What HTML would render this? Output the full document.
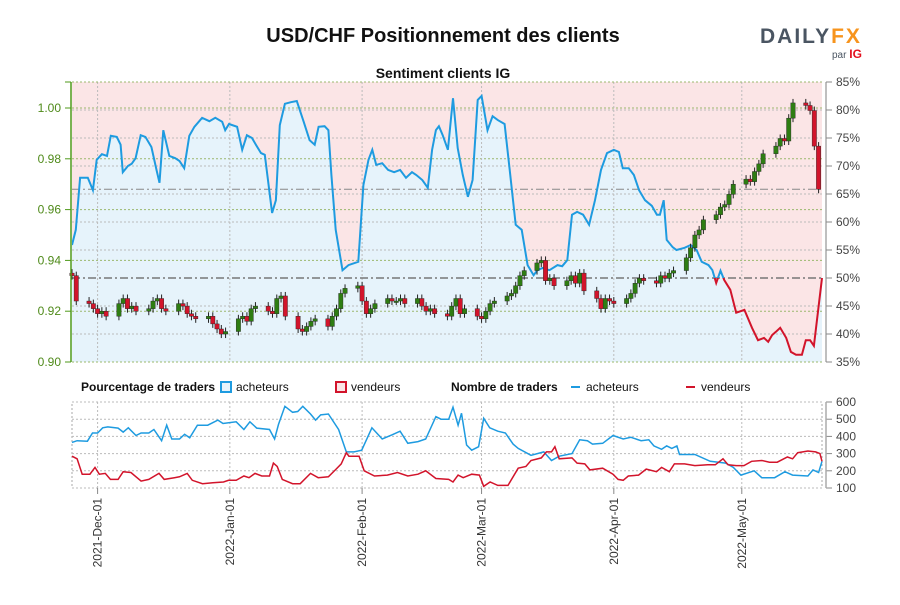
<!DOCTYPE html>
<html><head><meta charset="utf-8"><style>
body{margin:0;background:#fff;font-family:"Liberation Sans",sans-serif}
svg text{font-family:"Liberation Sans",sans-serif}
</style></head><body>
<svg id="c" width="900" height="600" viewBox="0 0 900 600" xmlns="http://www.w3.org/2000/svg">
<defs>
<clipPath id="above"><rect x="72" y="82" width="751" height="196"/></clipPath>
<clipPath id="below"><rect x="72" y="278" width="751" height="84"/></clipPath>
</defs>
<text x="443" y="42" text-anchor="middle" font-size="20" font-weight="bold" fill="#111">USD/CHF Positionnement des clients</text>
<text x="443" y="78" text-anchor="middle" font-size="14" font-weight="bold" fill="#111">Sentiment clients IG</text>
<g>
<text x="760" y="43" font-size="21" font-weight="bold" fill="#4a5562" letter-spacing="2">DAILY<tspan fill="#f7941d">FX</tspan></text>
<text x="832" y="58" font-size="10" fill="#4a5562">par <tspan fill="#e3101e" font-weight="bold" font-size="12">IG</tspan></text>
</g>
<g id="main"></g>
<g id="legend">
<text x="81" y="391" font-size="12" font-weight="bold" fill="#111">Pourcentage de traders</text>
<rect x="221" y="382" width="10" height="10" fill="#e6f3fb" stroke="#1e9be0" stroke-width="2"/>
<text x="236" y="391" font-size="12" fill="#111">acheteurs</text>
<rect x="336" y="382" width="10" height="10" fill="#fbe5e6" stroke="#d2142b" stroke-width="2"/>
<text x="351" y="391" font-size="12" fill="#111">vendeurs</text>
<text x="451" y="391" font-size="12" font-weight="bold" fill="#111">Nombre de traders</text>
<line x1="571" y1="387" x2="580" y2="387" stroke="#1e9be0" stroke-width="2"/>
<text x="586" y="391" font-size="12" fill="#111">acheteurs</text>
<line x1="686" y1="387" x2="695" y2="387" stroke="#d2142b" stroke-width="2"/>
<text x="701" y="391" font-size="12" fill="#111">vendeurs</text>
</g>
<g id="bottom"></g>
</svg>
<script>
const sentDays=[0,0.9,1.9,3.7,4.9,5.8,7.0,8.2,9.1,10.5,11.4,11.9,13.1,14.0,14.9,16.1,17.2,18.6,19.8,20.5,21.4,22.8,24.2,25.2,26.3,27.5,28.7,30.5,32.2,33.6,35.2,35.9,36.8,38.7,39.9,41.0,42.2,43.1,44.3,45.2,46.9,47.8,48.7,49.9,51.3,52.7,54.3,55.7,56.9,57.8,59.2,60.1,60.8,61.8,63.4,64.8,67.1,68.3,69.5,70.4,71.3,72.7,74.1,75.5,76.9,78.3,79.7,80.7,82.1,83.4,84.4,85.3,86.0,86.9,88.1,89.3,90.4,91.6,92.8,93.9,95.1,96.0,97.4,98.6,99.8,101.4,102.6,104.0,105.4,106.8,108.2,109.1,110.3,111.9,113.8,114.9,116.1,117.2,118.4,119.8,121.2,122.6,124.0,125.4,127.0,128.2,129.1,130.5,131.7,132.9,134.3,135.9,137.1,137.8,138.7,139.4,140.8,141.7,143.6,145.0,146.4,147.6,149.2,150.1,151.0,152.0,152.9,154.3,155.7,157.6,159.4,160.8,162.2,163.2,164.1,165.0,166.0,167.4,168.5,169.7,171.1,172.0,173.0,173.9,175.8];
const buyersPct=[55.9,58.6,67.9,67.9,65.7,71.1,72.1,71.8,75.4,75.2,73.8,68.9,70.0,70.4,71.4,75.5,75.2,73.4,69.3,67.0,76.4,71.8,71.4,70.9,69.6,75.4,77.0,78.6,78.0,78.6,77.9,76.4,77.5,77.0,72.9,75.5,75.0,73.8,72.3,72.0,61.6,63.9,77.3,81.1,81.4,81.6,77.9,74.6,73.8,77.0,77.1,76.4,68.4,58.6,51.4,52.3,52.9,66.6,71.1,72.9,70.2,70.5,69.3,68.9,69.3,67.9,68.9,68.4,67.5,66.1,72.9,76.4,77.1,75.5,72.9,82.1,73.2,68.4,64.5,67.5,81.8,82.5,76.4,78.9,78.2,77.5,69.3,59.5,58.6,52.3,50.5,51.4,51.8,51.4,52.3,52.1,53.2,61.3,61.8,61.3,59.5,63.9,69.3,72.3,72.9,72.5,69.6,69.6,68.4,65.7,63.9,62.9,61.3,61.3,63.9,56.8,55.5,55.0,55.4,55.9,55.0,52.9,52.3,51.4,49.1,51.3,49.6,47.9,43.8,44.3,41.1,38.9,39.3,38.6,39.8,40.4,41.1,39.3,36.8,36.3,36.3,38.9,38.9,37.9,50.0];
const closes=[0.934,0.924,0.923,0.921,0.919,0.920,0.918,0.923,0.925,0.921,0.922,0.920,0.921,0.924,0.925,0.921,0.920,0.923,0.922,0.919,0.918,0.917,0.918,0.915,0.913,0.911,0.912,0.917,0.918,0.916,0.921,0.922,0.920,0.919,0.925,0.926,0.918,0.913,0.912,0.914,0.916,0.917,0.914,0.918,0.921,0.927,0.929,0.930,0.924,0.919,0.921,0.923,0.925,0.924,0.924,0.925,0.923,0.925,0.922,0.920,0.921,0.919,0.918,0.922,0.925,0.919,0.921,0.918,0.917,0.920,0.923,0.924,0.926,0.927,0.930,0.934,0.936,0.939,0.940,0.932,0.933,0.930,0.932,0.934,0.931,0.935,0.928,0.925,0.921,0.925,0.924,0.923,0.925,0.927,0.931,0.933,0.932,0.931,0.934,0.933,0.935,0.936,0.941,0.945,0.950,0.952,0.956,0.958,0.961,0.962,0.966,0.970,0.972,0.971,0.975,0.978,0.982,0.985,0.988,0.987,0.996,1.002,1.001,0.999,0.985,0.968];
const firstOpen=0.935;
const buyDays=[0,1.2,3.6,4.8,6,7.2,8.4,10.8,12,13.2,15,16.2,18,19.2,21,22.2,23.4,25.2,26.4,27.6,29.4,31.8,34.2,35.4,38.5,40.3,41.7,43.3,46.3,47.5,48.4,49.9,51.7,52.9,54.1,55.9,57.1,58.3,60.1,62.5,64.3,66.1,67.9,70.3,72.7,75.1,76.9,78.7,81.1,82.9,85.3,86.5,88.3,89.3,90.5,91.3,92.5,93.7,95.3,96.5,97.9,99.8,101.6,103.4,104.6,107.6,110.6,112.4,114.2,117.2,119,120.8,122,124.4,126.8,129.2,131,133.4,135.2,136.4,138.2,139.4,140.6,141.8,142.4,146,149.6,153.2,155,156.8,159.9,161.7,164.7,167.1,168.9,172.5,173.7,175,175.8];
const buyCounts=[365,375,372,420,420,450,455,448,425,450,405,420,420,440,375,465,385,385,412,392,465,465,495,475,485,440,485,448,440,385,470,575,540,545,575,530,495,525,530,440,310,310,320,450,385,410,430,360,370,385,515,500,500,570,465,535,350,320,340,505,450,430,420,355,330,290,310,260,285,300,380,375,355,360,405,385,395,375,380,345,325,345,330,345,295,295,255,245,220,175,200,160,160,195,175,170,205,190,255];
const sellDays=[0,1.2,2.4,4.2,5.4,6.4,7.8,9.0,10.8,12.0,13.8,16.2,18.0,20.4,21.6,24.0,25.2,27.0,28.2,30.6,33.0,35.5,36.7,38.5,40.3,41.5,42.9,44.5,46.3,47.2,48.1,49.3,51.7,53.5,55.9,57.7,60.1,61.9,63.1,64.3,64.9,67.3,68.5,70.9,73.9,76.3,78.7,81.1,82.9,85.3,88.3,89.3,90.5,91.7,93.7,95.5,96.5,98.0,99.8,102.2,104.6,106.4,107.6,110.0,111.2,112.4,113.2,114.2,117.2,118.4,120.2,121.4,124.4,126.8,128.0,129.2,130.4,132.8,134.6,137.0,138.2,140.0,141.2,143.6,146.0,149.0,150.8,152.6,153.8,155.7,157.5,159.3,161.7,163.5,165.3,167.7,168.9,170.1,172.5,174.3,175.3,175.8];
const sellCounts=[285,270,180,180,220,180,185,150,150,195,190,140,150,185,150,160,165,185,145,125,130,135,145,145,170,160,185,170,170,245,225,150,125,125,185,160,165,210,240,305,285,285,200,170,175,190,170,180,200,155,150,135,175,160,180,175,110,135,115,115,215,225,260,275,310,310,340,270,275,245,240,205,215,180,150,145,170,175,210,195,220,195,240,240,230,235,235,270,235,230,230,255,260,250,250,280,270,305,315,310,300,255];
const priceTicks=[0.90,0.92,0.94,0.96,0.98,1.00];
const pctTicks=[35,40,45,50,55,60,65,70,75,80,85];
const countTicks=[100,200,300,400,500,600];
const dateTickDays=[6,37,68,96,127,157];
const dateTickLabels=["2021-Dec-01","2022-Jan-01","2022-Feb-01","2022-Mar-01","2022-Apr-01","2022-May-01"];
const lastPrice=0.968;

const NS="http://www.w3.org/2000/svg";
const X0=72,X1=822,DMAX=175.8;
const xD=d=>X0+d*(X1-X0)/DMAX;
const yP=p=>362-(p-0.9)*2540;
const yS=s=>82+(85-s)*5.6;
const yC=v=>488-(v-100)*0.172;
function mk(tag,attrs,parent){const e=document.createElementNS(NS,tag);for(const k in attrs)e.setAttribute(k,attrs[k]);parent.appendChild(e);return e;}
const main=document.getElementById('main');
const bot=document.getElementById('bottom');

let bg=mk('rect',{x:X0,y:82,width:X1-X0,height:280,fill:'#fbe5e6'},main);


let pts=sentDays.map((d,i)=>xD(d).toFixed(1)+','+yS(buyersPct[i]).toFixed(1));
let area=mk('polygon',{points:xD(0)+',362 '+pts.join(' ')+' '+xD(DMAX)+',362',fill:'#e6f3fb'},main);


// gridlines
priceTicks.forEach(p=>{mk('line',{x1:X0,x2:X1,y1:yP(p),y2:yP(p),stroke:'#9bb86e','stroke-dasharray':'2,2','stroke-width':1},main);});
pctTicks.forEach(s=>{if(s!==50)mk('line',{x1:X0,x2:X1,y1:yS(s),y2:yS(s),stroke:'#bbb','stroke-dasharray':'2,2','stroke-width':1},main);});
dateTickDays.forEach(d=>{mk('line',{x1:xD(d),x2:xD(d),y1:82,y2:362,stroke:'#bbb','stroke-dasharray':'2,2'},main);});
mk('line',{x1:X0,x2:X1,y1:yS(50),y2:yS(50),stroke:'#777','stroke-dasharray':'8,3,2,3','stroke-width':1.5},main);
mk('line',{x1:X0,x2:X1,y1:yP(lastPrice),y2:yP(lastPrice),stroke:'#888','stroke-dasharray':'8,3,2,3','stroke-width':1},main);
// sentiment lines
let lb=mk('polyline',{points:pts.join(' '),fill:'none',stroke:'#1e9be0','stroke-width':2,'clip-path':'url(#above)'},main);


let lr=mk('polyline',{points:pts.join(' '),fill:'none',stroke:'#d2142b','stroke-width':2,'clip-path':'url(#below)'},main);


// candles
let d=0,prev=firstOpen;
for(let i=0;i<closes.length;i++){
  while([0,6].includes((4+d)%7))d++;
  const o=prev,c=closes[i],x=xD(d);
  const yt=yP(Math.max(o,c)),yb=yP(Math.min(o,c));
  const g=mk('g',{},main);
  
  
  mk('line',{x1:x,x2:x,y1:yt-4,y2:yb+4,stroke:'#222','stroke-width':1},g);
  mk('rect',{x:x-2.2,y:yt,width:4.4,height:Math.max(1.5,yb-yt),fill:c>=o?'#2e7d12':'#d2142b',stroke:'#222','stroke-width':0.4},g);
  prev=c;d++;
}
mk('line',{x1:X0,x2:X1,y1:82,y2:82,stroke:'#9bb86e','stroke-dasharray':'2,2'},main);
mk('line',{x1:X0,x2:X1,y1:362,y2:362,stroke:'#9bb86e','stroke-dasharray':'2,2'},main);
// left axis
let la=mk('line',{x1:71,x2:71,y1:82,y2:362,stroke:'#4f9a1a','stroke-width':1.5},main);


priceTicks.forEach(p=>{mk('line',{x1:65,x2:71,y1:yP(p),y2:yP(p),stroke:'#4f9a1a'},main);
 const t=mk('text',{x:61,y:yP(p)+4,'text-anchor':'end','font-size':12,fill:'#4f8a1a'},main);t.textContent=p.toFixed(2);
 });
mk('line',{x1:65,x2:71,y1:82,y2:82,stroke:'#4f9a1a'},main);
// right axis
mk('line',{x1:826,x2:826,y1:82,y2:362,stroke:'#aaa','stroke-width':1.5},main);
pctTicks.forEach(s=>{mk('line',{x1:826,x2:832,y1:yS(s),y2:yS(s),stroke:'#888'},main);
 const t=mk('text',{x:836,y:yS(s)+4,'font-size':12,fill:'#444'},main);t.textContent=s+'%';
 });
// bottom chart
mk('rect',{x:X0,y:402,width:X1-X0,height:86,fill:'none',stroke:'#aaa','stroke-dasharray':'2,2'},bot);
countTicks.forEach(v=>{mk('line',{x1:X0,x2:X1,y1:yC(v),y2:yC(v),stroke:'#bbb','stroke-dasharray':'2,2'},bot);
 mk('line',{x1:826,x2:832,y1:yC(v),y2:yC(v),stroke:'#888'},bot);
 const t=mk('text',{x:836,y:yC(v)+4,'font-size':12,fill:'#444'},bot);t.textContent=v;
 });
mk('line',{x1:826,x2:826,y1:402,y2:488,stroke:'#aaa','stroke-width':1.5},bot);
dateTickDays.forEach((dd,i)=>{const x=xD(dd);
 mk('line',{x1:x,x2:x,y1:402,y2:488,stroke:'#bbb','stroke-dasharray':'2,2'},bot);
 mk('line',{x1:x,x2:x,y1:488,y2:494,stroke:'#888'},bot);
 const t=mk('text',{x:0,y:0,'text-anchor':'end','font-size':12,fill:'#333',transform:`translate(${x+4},498) rotate(-90)`},bot);t.textContent=dateTickLabels[i];
 });
let bl=mk('polyline',{points:buyDays.map((dd,i)=>xD(dd).toFixed(1)+','+yC(buyCounts[i]).toFixed(1)).join(' '),fill:'none',stroke:'#1e9be0','stroke-width':1.5},bot);


let sl=mk('polyline',{points:sellDays.map((dd,i)=>xD(dd).toFixed(1)+','+yC(sellCounts[i]).toFixed(1)).join(' '),fill:'none',stroke:'#d2142b','stroke-width':1.5},bot);


</script>
</body></html>
